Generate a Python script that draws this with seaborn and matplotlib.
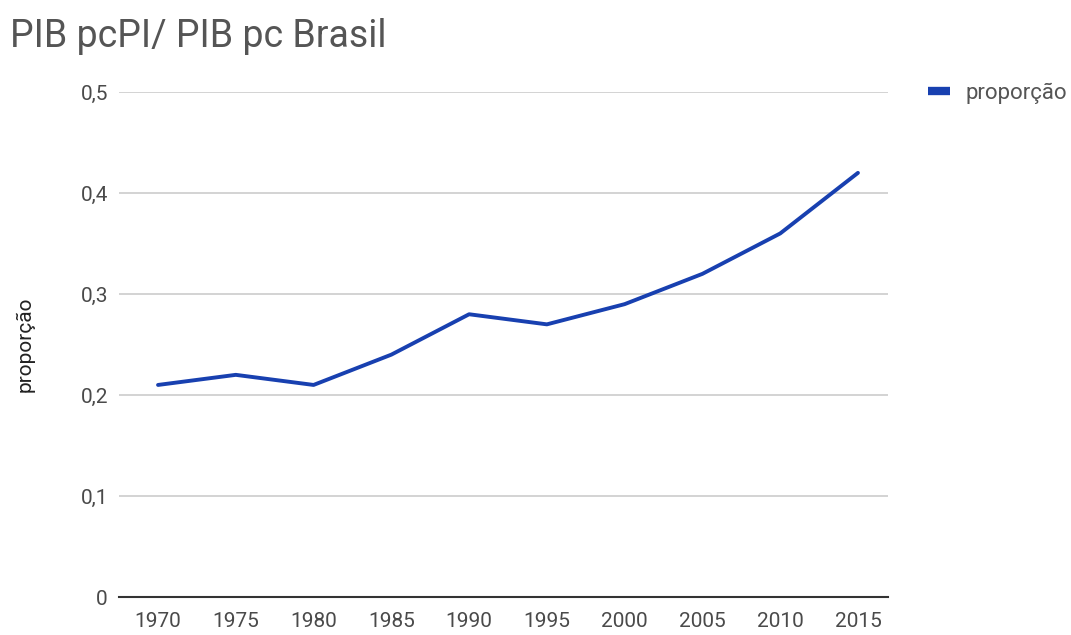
import matplotlib
matplotlib.use("Agg")
import matplotlib.pyplot as plt
import seaborn as sns
import pandas as pd
from matplotlib.lines import Line2D

years = [1970, 1975, 1980, 1985, 1990, 1995, 2000, 2005, 2010, 2015]
proporcao = [0.21, 0.22, 0.21, 0.24, 0.28, 0.27, 0.29, 0.32, 0.36, 0.42]
yticks = [0, 0.1, 0.2, 0.3, 0.4, 0.5]
ytick_labels = ["0", "0,1", "0,2", "0,3", "0,4", "0,5"]

sns.set_theme(style="white")
plt.rcParams['font.family'] = ['Roboto', 'DejaVu Sans']

df = pd.DataFrame({"ano": years, "proporção": proporcao})

fig = plt.figure(figsize=(10.71, 6.35), dpi=100)
ax = fig.add_axes([0.1111, 0.0598, 0.7180, 0.7952])

line_color = "#1840b0"
sns.lineplot(data=df, x="ano", y="proporção", ax=ax, color=line_color,
             linewidth=2.8, legend=False)

ax.set_xlim(1967.49, 2016.93)
ax.set_ylim(0, 0.5)
ax.set_yticks(yticks)
ax.set_yticklabels(ytick_labels)
ax.set_xticks(years)
ax.set_xticklabels([str(y) for y in years])
ax.tick_params(axis="both", length=0, labelsize=15, colors="#4a4a4a")
ax.tick_params(axis="x", pad=11)
ax.tick_params(axis="y", pad=8)

ax.grid(axis="y", color="#cccccc", linewidth=1.2)
ax.grid(axis="x", visible=False)
for s in ["top", "right", "left"]:
    ax.spines[s].set_visible(False)
ax.spines["bottom"].set_color("#333333")
ax.spines["bottom"].set_linewidth(1.5)
ax.spines["bottom"].set_zorder(3)

ax.set_xlabel("")
ax.set_ylabel("proporção", fontsize=15, color="#222222", labelpad=33)

fig.text(0.0093, 0.942, "PIB pcPI/ PIB pc Brasil", fontsize=27, color="#555555",
         ha="left", va="center")

handle = Line2D([0], [0], color=line_color, linewidth=6, solid_capstyle="butt")
fig.legend([handle], ["proporção"], loc="center left",
           bbox_to_anchor=(0.8665, 0.853), frameon=False, fontsize=16,
           borderpad=0, borderaxespad=0,
           handlelength=1.0, handletextpad=0.68, labelcolor="#555555")

fig.savefig("out.png", dpi=100)
